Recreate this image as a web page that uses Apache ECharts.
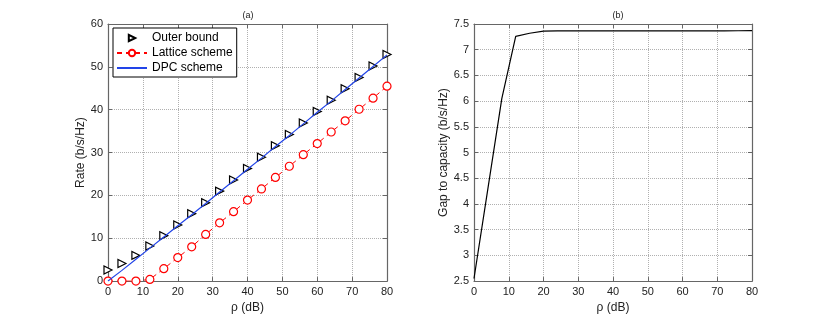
<!DOCTYPE html>
<html>
<head>
<meta charset="utf-8">
<script src="https://cdn.jsdelivr.net/npm/echarts@6/dist/echarts.min.js"></script>
<style>html,body{margin:0;padding:0;background:#fff}#c{width:830px;height:319px}</style>
</head>
<body>
<div id="c"></div>
<script>
const rho = [0,4,8,12,16,20,24,28,32,36,40,44,48,52,56,60,64,68,72,76,80];
const outerBound = [2.6,4.1,6.0,8.2,10.6,13.1,15.7,18.3,21.0,23.6,26.3,28.9,31.6,34.2,36.9,39.6,42.2,44.9,47.5,50.2,52.9];
const lattice = [0,0,0,0.4,2.9,5.5,8.0,10.9,13.6,16.2,18.9,21.5,24.2,26.8,29.5,32.1,34.8,37.4,40.1,42.7,45.5];
const dpc = [0,2.5,5.1,7.7,10.3,12.9,15.5,18.1,20.8,23.4,26.1,28.7,31.4,34.0,36.7,39.4,42.0,44.7,47.4,50.1,52.8];
const gap = [2.55,4.3,6.05,7.26,7.32,7.36,7.365,7.365,7.365,7.365,7.365,7.365,7.365,7.365,7.365,7.365,7.365,7.367,7.368,7.369,7.37];

const zip = (xs, ys) => xs.map((x, i) => [x, ys[i]]);
const FONT = 'Liberation Sans';
const AX = '#666';
const lbl = {color: '#222', fontFamily: FONT, fontSize: 11, margin: 5};
const grid = {type: 'dotted', color: '#b0b0b0', width: 1};

function mainX(gi, name) {
  return {type: 'value', gridIndex: gi, min: 0, max: 80, interval: 10, position: 'bottom',
    name: name, nameLocation: 'middle', nameGap: 17,
    nameTextStyle: {color: '#222', fontFamily: FONT, fontSize: 12},
    axisLine: {show: true, onZero: false, lineStyle: {color: AX, width: 1.2}},
    axisTick: {show: true, inside: true, length: 4, lineStyle: {color: AX}},
    axisLabel: lbl, splitLine: {show: true, lineStyle: grid}};
}
function topX(gi) {
  return {type: 'value', gridIndex: gi, min: 0, max: 80, interval: 10, position: 'top',
    axisLine: {show: true, onZero: false, lineStyle: {color: AX, width: 1.2}},
    axisTick: {show: true, inside: true, length: 4, lineStyle: {color: AX}},
    axisLabel: {show: false}, splitLine: {show: false}};
}
function mainY(gi, min, max, iv, name, gap) {
  return {type: 'value', gridIndex: gi, min: min, max: max, interval: iv, position: 'left',
    name: name, nameLocation: 'middle', nameGap: gap,
    nameTextStyle: {color: '#222', fontFamily: FONT, fontSize: 12},
    axisLine: {show: true, onZero: false, lineStyle: {color: AX, width: 1.2}},
    axisTick: {show: true, inside: true, length: 4, lineStyle: {color: AX}},
    axisLabel: lbl, splitLine: {show: true, lineStyle: grid}};
}
function rightY(gi, min, max, iv) {
  return {type: 'value', gridIndex: gi, min: min, max: max, interval: iv, position: 'right',
    axisLine: {show: true, onZero: false, lineStyle: {color: AX, width: 1.2}},
    axisTick: {show: true, inside: true, length: 4, lineStyle: {color: AX}},
    axisLabel: {show: false}, splitLine: {show: false}};
}

const chart = echarts.init(document.getElementById('c'), null, {renderer: 'canvas'});
chart.setOption({
  animation: false,
  backgroundColor: '#fff',
  title: [
    {text: '(a)', left: 243, top: 6, textAlign: 'center', textStyle: {fontFamily: FONT, fontSize: 9, fontWeight: 'normal', color: '#222'}},
    {text: '(b)', left: 613, top: 6, textAlign: 'center', textStyle: {fontFamily: FONT, fontSize: 9, fontWeight: 'normal', color: '#222'}}
  ],
  grid: [
    {left: 108, top: 24, width: 279, height: 259},
    {left: 474, top: 24, width: 278, height: 260}
  ],
  xAxis: [mainX(0, 'ρ (dB)'), topX(0), mainX(1, 'ρ (dB)'), topX(1)],
  yAxis: [mainY(0, 0, 60, 10, 'Rate (b/s/Hz)', 18), rightY(0, 0, 60, 10),
          mainY(1, 2.5, 7.5, 0.5, 'Gap to capacity (b/s/Hz)', 20), rightY(1, 2.5, 7.5, 0.5)],
  legend: {
    orient: 'vertical', left: 113, top: 28,
    data: ['Outer bound', 'Lattice scheme', {name: 'DPC scheme', itemStyle: {opacity: 0}}],
    backgroundColor: '#fff', borderColor: '#000', borderWidth: 1, borderRadius: 0,
    padding: [4, 4, 3, 3], itemGap: 3, itemWidth: 30, itemHeight: 8,
    textStyle: {fontFamily: FONT, fontSize: 12, color: '#000'}
  },
  series: [
    {name: 'Outer bound', type: 'line', xAxisIndex: 0, yAxisIndex: 0, data: zip(rho, outerBound),
     lineStyle: {width: 0, opacity: 0}, symbol: 'triangle', symbolSize: 8, symbolRotate: -90,
     itemStyle: {color: '#fff', borderColor: '#000', borderWidth: 1.2}, z: 2},
    {name: 'Lattice scheme', type: 'line', xAxisIndex: 0, yAxisIndex: 0, data: zip(rho, lattice),
     lineStyle: {color: '#ff0000', width: 1, type: [5, 4]}, symbol: 'circle', symbolSize: 8,
     itemStyle: {color: '#fff', borderColor: '#ff0000', borderWidth: 1.2}, z: 3},
    {name: 'DPC scheme', type: 'line', xAxisIndex: 0, yAxisIndex: 0, data: zip(rho, dpc),
     lineStyle: {color: '#2244e8', width: 1.2}, itemStyle: {color: '#2244e8'}, symbol: 'none', showSymbol: false, z: 4},
    {name: 'Gap', type: 'line', xAxisIndex: 2, yAxisIndex: 2, data: zip(rho, gap),
     lineStyle: {color: '#000', width: 1.2}, symbol: 'none', showSymbol: false}
  ]
});
</script>
</body>
</html>
